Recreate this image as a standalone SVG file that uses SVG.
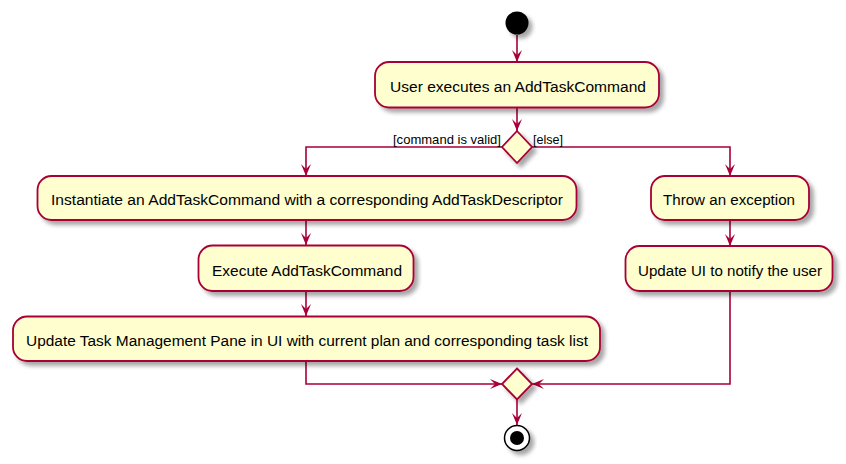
<svg xmlns="http://www.w3.org/2000/svg" width="846" height="464" viewBox="0 0 846 464">
<defs>
<filter id="sh" x="-20%" y="-20%" width="150%" height="160%">
<feGaussianBlur in="SourceAlpha" stdDeviation="2"/>
<feOffset dx="4" dy="4" result="b"/>
<feComponentTransfer><feFuncA type="linear" slope="0.35"/></feComponentTransfer>
<feMerge><feMergeNode/><feMergeNode in="SourceGraphic"/></feMerge>
</filter>
<marker id="ah" viewBox="0 0 12 10" refX="12" refY="5" markerWidth="12" markerHeight="10" markerUnits="userSpaceOnUse" orient="auto">
<path d="M0,0 L12,5 L0,10 L5,5 Z" fill="#A80036"/>
</marker>
</defs>
<style>
.act rect{fill:#FEFECE;stroke:#A80036;stroke-width:1.8;filter:url(#sh)}
.act text{font-family:"Liberation Sans",Arial,sans-serif;font-size:15.5px;fill:#000}
.dia polygon{fill:#FEFECE;stroke:#A80036;stroke-width:1.8;filter:url(#sh)}
.lbl{font-family:"Liberation Sans",Arial,sans-serif;font-size:13px;fill:#000}
#connectors path{fill:none;stroke:#A80036;stroke-width:1.6;marker-end:url(#ah)}
</style>
<rect width="846" height="464" fill="#FFFFFF"/>

<g id="connectors">
<path d="M517,35 L517,62"/>
<path d="M517,108 L517,131"/>
<path d="M502,147 L306,147 L306,176"/>
<path d="M532,147 L730,147 L730,176"/>
<path d="M306,220 L306,245"/>
<path d="M306,291 L306,316"/>
<path d="M730,220 L730,246"/>
<path d="M306,361 L306,384 L502,384"/>
<path d="M730,291 L730,384 L532,384"/>
<path d="M517,399 L517,425"/>
</g>

<g id="start"><circle cx="517" cy="23" r="11.5" fill="#000" filter="url(#sh)"/></g>

<g id="n1" class="act"><rect x="375" y="62" width="284" height="45.5" rx="14"/><text x="390" y="92" textLength="256" lengthAdjust="spacingAndGlyphs">User executes an AddTaskCommand</text></g>

<g id="d1" class="dia"><polygon points="517,131 532,147 517,163 502,147"/></g>
<text class="lbl" x="393" y="144" textLength="108" lengthAdjust="spacingAndGlyphs">[command is valid]</text>
<text class="lbl" x="533" y="144" textLength="30" lengthAdjust="spacingAndGlyphs">[else]</text>

<g id="n2" class="act"><rect x="37.5" y="176" width="539" height="44" rx="14"/><text x="51" y="205" textLength="512" lengthAdjust="spacingAndGlyphs">Instantiate an AddTaskCommand with a corresponding AddTaskDescriptor</text></g>
<g id="n3" class="act"><rect x="198.5" y="245.5" width="215" height="45.5" rx="14"/><text x="212" y="275.5" textLength="190" lengthAdjust="spacingAndGlyphs">Execute AddTaskCommand</text></g>
<g id="n4" class="act"><rect x="13" y="316.5" width="587" height="44.5" rx="14"/><text x="26" y="346" textLength="562" lengthAdjust="spacingAndGlyphs">Update Task Management Pane in UI with current plan and corresponding task list</text></g>
<g id="n5" class="act"><rect x="651" y="176" width="158" height="44" rx="14"/><text x="663" y="205" textLength="132" lengthAdjust="spacingAndGlyphs">Throw an exception</text></g>
<g id="n6" class="act"><rect x="625.5" y="246" width="207" height="45" rx="14"/><text x="638" y="275.5" textLength="184" lengthAdjust="spacingAndGlyphs">Update UI to notify the user</text></g>

<g id="d2" class="dia"><polygon points="517,368.5 532,384 517,399.5 502,384"/></g>

<g id="end"><circle cx="517" cy="438" r="12.5" fill="#FFFFFF" stroke="#000" stroke-width="1.5" filter="url(#sh)"/><circle cx="517" cy="438" r="7" fill="#000"/></g>
</svg>
